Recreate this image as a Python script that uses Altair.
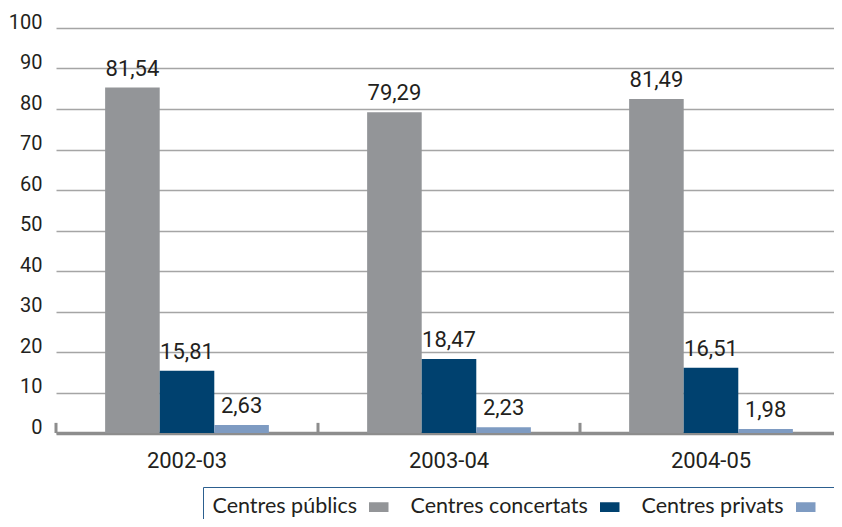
import altair as alt
import pandas as pd

years = ["2002-03", "2003-04", "2004-05"]
series = ["Centres públics", "Centres concertats", "Centres privats"]
# bar heights as drawn in the reference
publics = [85.3, 79.2, 82.5]
concertats = [15.4, 18.3, 16.1]
privats = [2.0, 1.4, 1.0]
# printed labels
label_publics = ["81,54", "79,29", "81,49"]
label_concertats = ["15,81", "18,47", "16,51"]
label_privats = ["2,63", "2,23", "1,98"]
colors = ["#939598", "#00416f", "#7e9bc2"]
y_ticks = list(range(0, 101, 10))

rows = []
for s, vals, labs in zip(series, [publics, concertats, privats],
                         [label_publics, label_concertats, label_privats]):
    for yv, v, lab in zip(years, vals, labs):
        rows.append({"year": yv, "series": s, "value": v, "label": lab})
df = pd.DataFrame(rows)

# legend: label precedes its swatch -> shift labels by one entry
legend_domain = ["_start"] + series
legend_colors = ["transparent"] + colors
next_label = {legend_domain[i]: (series[i] if i < len(series) else "")
              for i in range(len(legend_domain))}
label_expr = "".join(f"datum.value === '{k}' ? '{v}' : " for k, v in next_label.items()) + "''"

x_enc = alt.X("year:N", sort=years, title=None,
              scale=alt.Scale(domain=years, paddingInner=0, paddingOuter=0),
              axis=alt.Axis(labelAngle=0, labelFont="Roboto", labelFontSize=22,
                            labelColor="#231f20", labelBaseline="alphabetic",
                            labelPadding=34, ticks=False, tickSize=0,
                            domainColor="#8d8d8d", domainWidth=3.5, grid=False))
xo_enc = alt.XOffset("series:N", sort=series,
                     scale=alt.Scale(domain=series, paddingInner=0, paddingOuter=0.9))
y_scale = alt.Scale(domain=[0, 100], nice=False)

bars = alt.Chart(df).mark_bar(strokeWidth=0).encode(
    x=x_enc,
    xOffset=xo_enc,
    y=alt.Y("value:Q", scale=y_scale, title=None,
            axis=alt.Axis(values=y_ticks, labelFont="Roboto", labelFontSize=20,
                          labelColor="#231f20", labelBaseline="alphabetic",
                          labelPadding=14, ticks=False, tickSize=0, domain=False,
                          gridColor="#a5a5a5", gridWidth=1.5)),
    color=alt.Color("series:N",
                    scale=alt.Scale(domain=legend_domain, range=legend_colors),
                    legend=alt.Legend(title=None, orient="none", legendX=147, legendY=459,
                                      direction="horizontal",
                                      strokeColor="#2c5f8f", fillColor="white",
                                      padding=9,
                                      labelFont="Lato", labelFontSize=21.5,
                                      labelColor="#231f20", labelLimit=400,
                                      labelExpr=label_expr,
                                      symbolType="M-1,-0.5H1V0.5H-1Z",
                                      symbolSize=380, symbolStrokeWidth=0,
                                      symbolOpacity=1,
                                      labelOffset=alt.ExprRef(
                                          "datum.value === '_start' ? -21 : 21"),
                                      columnPadding=11)),
)

labels = alt.Chart(df).mark_text(baseline="alphabetic", dy=-12, font="Roboto",
                                 fontSize=22, color="#231f20").encode(
    x=alt.X("year:N", sort=years),
    xOffset=alt.XOffset("series:N", sort=series),
    y=alt.Y("value:Q", scale=y_scale),
    text="label:N",
)

ticks = alt.Chart(pd.DataFrame({"year": years})).mark_rule(
    color="#8d8d8d", strokeWidth=3).encode(
    x=alt.X("year:N", sort=years, bandPosition=0),
    y=alt.datum(0),
    y2=alt.datum(2.5),
)

chart = alt.layer(bars, labels, ticks).properties(
    width=786, height=405,
    autosize=alt.AutoSizeParams(type="none"),
    padding={"left": 48, "top": 20, "right": -8, "bottom": 86},
).configure_view(stroke=None)

chart.save("out.html", embed_options={"renderer": "svg", "actions": False})
